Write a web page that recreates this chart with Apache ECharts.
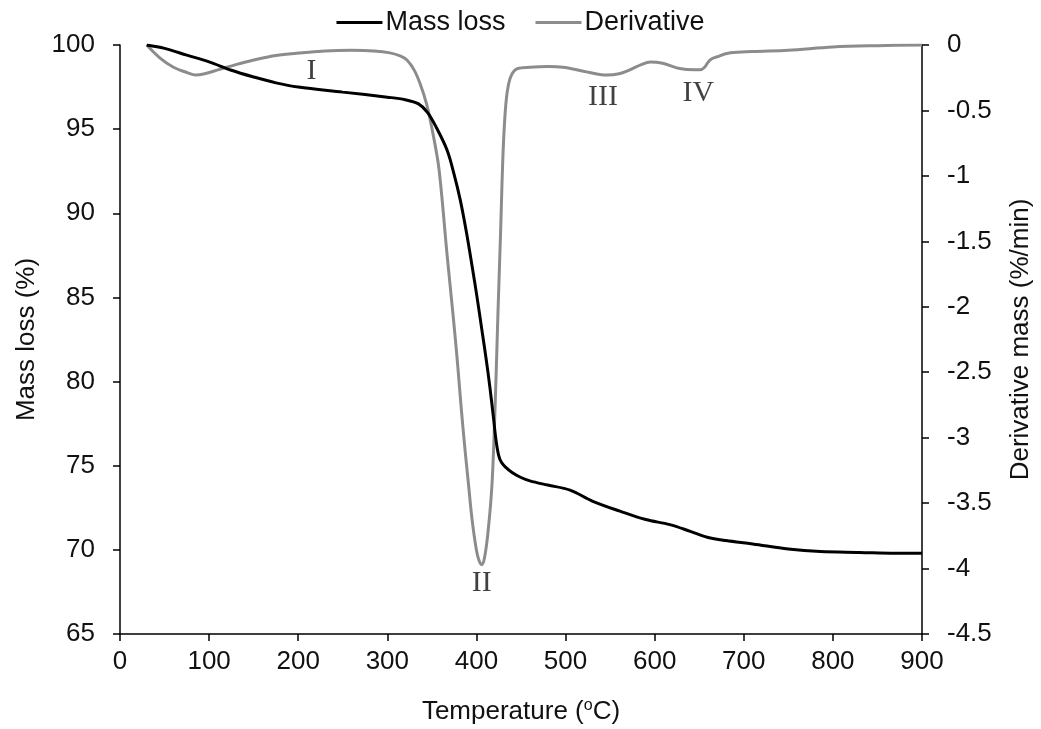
<!DOCTYPE html>
<html>
<head>
<meta charset="utf-8">
<script src="https://cdn.jsdelivr.net/npm/echarts@6/dist/echarts.min.js"></script>
<style>html,body{margin:0;padding:0;background:#fff}#c{width:1041px;height:729px}</style>
</head>
<body>
<div id="c"></div>
<script>
const massT = [30, 50, 75, 100, 125, 150, 175, 200, 250, 300, 320, 335, 345, 355, 367, 375, 382, 389, 395, 401, 406, 411, 415, 419, 422, 425, 428, 432, 440, 450, 460, 480, 505, 530, 561, 590, 617, 640, 659, 680, 710, 750, 786, 830, 870, 900];
const massV = [100, 99.8, 99.4, 99.0, 98.5, 98.1, 97.75, 97.5, 97.2, 96.9, 96.75, 96.5, 96.0, 95.1, 93.76, 92.3, 90.75, 88.8, 86.9, 84.9, 83.1, 81.3, 79.7, 77.9, 76.5, 75.6, 75.2, 74.95, 74.6, 74.3, 74.1, 73.85, 73.55, 72.9, 72.3, 71.8, 71.5, 71.1, 70.75, 70.55, 70.35, 70.05, 69.9, 69.85, 69.8, 69.8];

const derT = [30, 45, 60, 75, 85, 95, 110, 130, 150, 175, 205, 230, 260, 285, 303, 315, 322, 330, 337, 344, 351, 358, 367, 374, 379, 383, 387, 391, 395, 400, 403, 406, 409, 413, 417.5, 421, 424, 427, 430, 433, 436, 440, 446, 460, 480, 497, 520, 546, 560, 572, 585, 595, 609, 628, 645, 651, 656, 662, 670, 685, 710, 750, 800, 850, 900];
const derV = [0, -0.1, -0.17, -0.21, -0.23, -0.22, -0.19, -0.15, -0.115, -0.08, -0.06, -0.045, -0.04, -0.045, -0.06, -0.085, -0.115, -0.19, -0.3, -0.45, -0.67, -0.95, -1.6, -2.08, -2.45, -2.78, -3.08, -3.35, -3.62, -3.86, -3.94, -3.97, -3.92, -3.72, -3.35, -2.75, -2.08, -1.45, -0.8, -0.45, -0.3, -0.22, -0.18, -0.17, -0.165, -0.17, -0.2, -0.23, -0.22, -0.19, -0.15, -0.13, -0.14, -0.18, -0.19, -0.19, -0.17, -0.115, -0.09, -0.06, -0.05, -0.04, -0.015, -0.005, 0];

const xTicks = [0, 900, 100];
const leftTicks = [65, 100, 5];
const rightTicks = [-4.5, 0, 0.5];

const peakLabels = [
  {text: 'I', t: 215, v: -0.2},
  {text: 'II', t: 406, v: -4.11},
  {text: 'III', t: 542, v: -0.40},
  {text: 'IV', t: 649, v: -0.37}
];

const massData = massT.map((t, i) => [t, massV[i]]);
const derData = derT.map((t, i) => [t, derV[i]]);

const FONT = 'Liberation Sans, Arial, sans-serif';
const chart = echarts.init(document.getElementById('c'), null, {renderer: 'canvas'});
const axisText = {color: '#111', fontFamily: FONT, fontSize: 26};
const axisLine = {show: true, onZero: false, lineStyle: {color: '#000', width: 1.5}};
const tick = {show: true, inside: false, length: 7, lineStyle: {color: '#000', width: 1.5}};
chart.setOption({
  animation: false,
  backgroundColor: '#fff',
  grid: {left: 120, right: 119, top: 45, bottom: 95, outerBoundsMode: 'none', containLabel: false},
  legend: {
    top: 4, left: 'center',
    icon: 'rect', itemWidth: 46, itemHeight: 3, itemGap: 30,
    textStyle: {color: '#111', fontFamily: FONT, fontSize: 27, padding: [0, 0, 0, -2]},
    data: ['Mass loss', 'Derivative']
  },
  xAxis: {
    type: 'value', min: xTicks[0], max: xTicks[1], interval: xTicks[2],
    name: 'Temperature ({sup|o}C)', nameLocation: 'middle', nameGap: 64,
    nameTextStyle: Object.assign({}, axisText, {rich: {sup: {fontSize: 16, verticalAlign: 'top', padding: [0, 0, 12, 0], color: '#111', fontFamily: FONT}}}),
    axisLine: axisLine,
    axisTick: tick,
    axisLabel: Object.assign({}, axisText, {margin: 15}),
    splitLine: {show: false}
  },
  yAxis: [
    {
      type: 'value', position: 'left', min: leftTicks[0], max: leftTicks[1], interval: leftTicks[2],
      name: 'Mass loss (%)', nameLocation: 'middle', nameGap: 80, nameRotate: 90,
      nameTextStyle: axisText,
      axisLine: axisLine,
      axisTick: tick,
      axisLabel: Object.assign({}, axisText, {margin: 25}),
      splitLine: {show: false}
    },
    {
      type: 'value', position: 'right', min: rightTicks[0], max: rightTicks[1], interval: rightTicks[2],
      name: 'Derivative mass (%/min)', nameLocation: 'middle', nameGap: 86, nameRotate: 90,
      nameTextStyle: axisText,
      axisLine: axisLine,
      axisTick: tick,
      axisLabel: Object.assign({}, axisText, {margin: 25}),
      splitLine: {show: false}
    }
  ],
  series: [
    {
      name: 'Mass loss', type: 'line', yAxisIndex: 0, data: massData,
      showSymbol: false, smooth: 0.35, z: 3,
      lineStyle: {color: '#000', width: 3}, itemStyle: {color: '#000'}
    },
    {
      name: 'Derivative', type: 'line', yAxisIndex: 1, data: derData,
      showSymbol: false, smooth: 0.35, z: 2,
      lineStyle: {color: '#8c8c8c', width: 3}, itemStyle: {color: '#8c8c8c'}
    },
    {
      name: 'labels', type: 'scatter', yAxisIndex: 1,
      data: peakLabels.map(p => ({value: [p.t, p.v], label: {formatter: p.text}})),
      symbolSize: 0, silent: true, z: 4,
      label: {show: true, position: 'inside', color: '#111', fontFamily: 'Liberation Serif, Times New Roman, serif', fontSize: 30}
    }
  ]
});
</script>
</body>
</html>
